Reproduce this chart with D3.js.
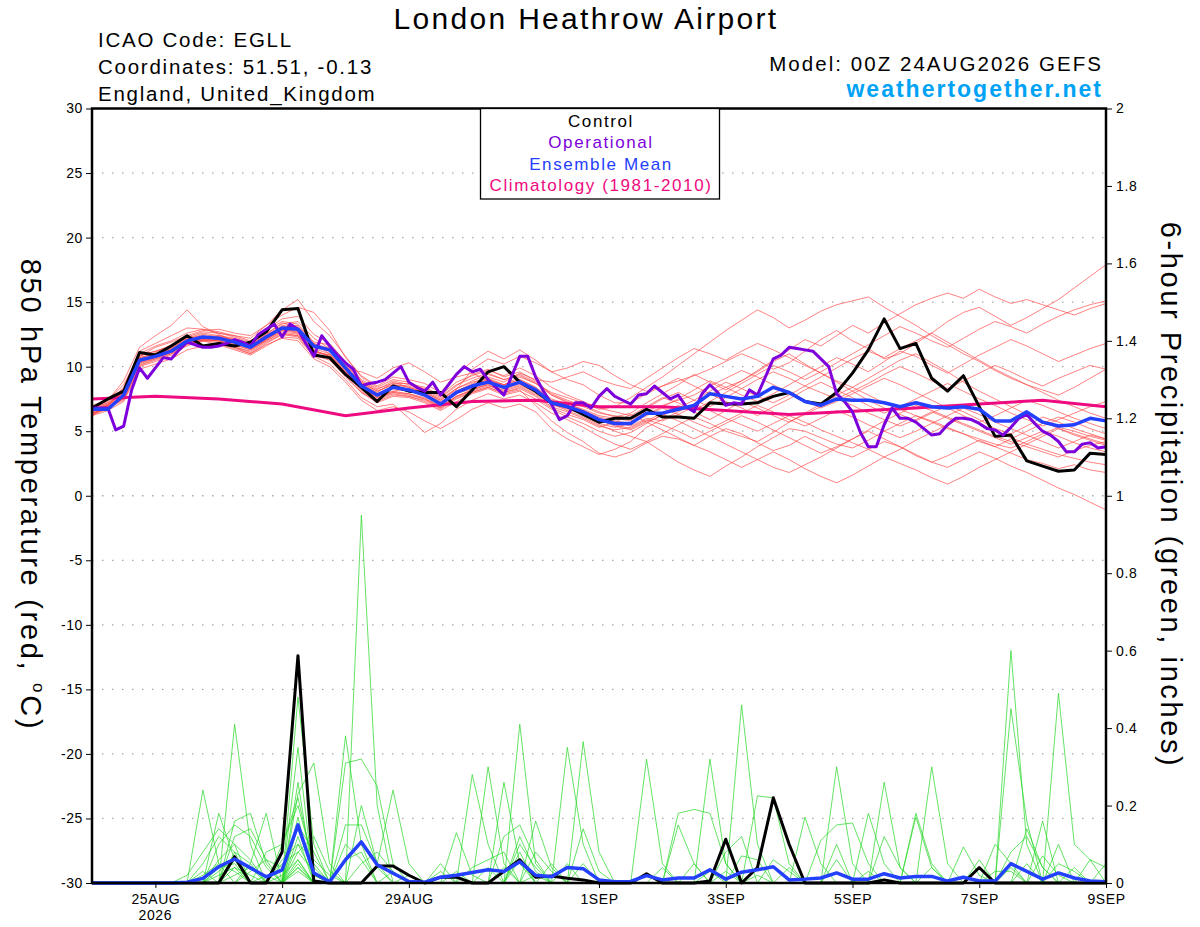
<!DOCTYPE html>
<html>
<head>
<meta charset="utf-8">
<script src="https://cdn.jsdelivr.net/npm/d3@7"></script>
<style>
  body { margin: 0; background: #fff; }
  svg text { font-family: "Liberation Sans", Arial, Helvetica, sans-serif; }
</style>
</head>
<body>
<svg id="chart" width="1200" height="927"></svg>
<script>
var runStart = Date.UTC(2026, 7, 24);      // 00Z 24AUG2026
var runEnd = Date.UTC(2026, 8, 9);

var tempTicks = [-30, -25, -20, -15, -10, -5, 0, 5, 10, 15, 20, 25, 30];
var precipTicks = [0, 0.2, 0.4, 0.6, 0.8, 1, 1.2, 1.4, 1.6, 1.8, 2];
var dateTicks = ["2026-08-25", "2026-08-27", "2026-08-29", "2026-09-01",
                 "2026-09-03", "2026-09-05", "2026-09-07", "2026-09-09"];

// 6-hourly control 850 hPa temperature
var controlTemp = [6.8,7.5,8.1,11.1,10.9,11.6,12.4,11.6,11.8,11.6,11.9,
  12.7,14.4,14.5,10.9,10.7,9.4,8.4,7.3,8.5,8.1,
  8.0,8.0,6.9,8.2,9.6,10.0,8.8,8.1,7.2,6.9,
  6.3,5.7,6.0,6.0,6.7,6.1,6.1,6.0,7.2,7.1,
  7.1,7.2,7.7,8.0,7.3,7.1,8.0,9.5,11.3,13.7,
  11.4,11.8,9.1,8.1,9.3,6.9,4.6,4.7,2.7,2.3,
  1.9,2.0,3.3,3.2];

// 6-hourly ensemble mean temperature
var meanTemp = [6.7,6.7,7.8,10.5,10.8,11.2,12.0,12.3,12.2,11.9,11.5,
  12.3,13.0,12.9,11.6,11.3,9.9,8.5,7.8,8.4,8.2,
  7.8,7.1,8.0,8.5,8.8,8.4,8.8,8.2,7.2,6.9,
  6.5,5.9,5.6,5.6,6.4,6.4,6.7,7.0,7.9,7.7,
  7.5,7.7,8.4,8.0,7.3,7.0,7.5,7.4,7.4,7.2,
  6.9,7.2,6.9,6.8,6.9,6.7,5.8,5.8,6.5,5.7,
  5.4,5.5,6.0,5.8];

// 3-hourly operational GFS temperature
var operTemp = [6.8,6.8,6.8,5.1,5.4,8.2,9.9,9.1,9.9,10.7,
  10.6,11.3,11.9,11.7,11.5,11.5,11.6,11.8,12.1,11.9,
  11.6,12.5,12.9,13.3,12.3,13.3,12.9,11.8,10.8,12.4,
  11.6,10.9,10.3,9.8,8.5,8.7,8.8,9.0,9.5,10.0,
  8.8,8.4,8.1,8.8,7.8,8.6,9.4,10.0,9.6,9.8,
  9.0,8.4,7.8,9.3,10.8,10.8,9.2,8.1,7.1,5.9,
  6.2,7.2,7.2,6.8,7.7,8.3,7.7,7.4,7.1,7.8,
  7.9,8.5,8.0,7.5,7.8,6.9,6.5,7.9,8.6,8.0,
  7.0,7.2,7.1,8.2,7.8,9.2,10.6,10.9,11.5,11.4,
  11.3,11.2,10.6,10.0,7.9,7.3,6.5,4.9,3.8,3.8,
  5.5,6.8,6.0,6.0,5.7,5.2,4.7,4.8,5.5,6.0,
  6.0,5.9,5.6,5.2,5.1,4.7,5.3,6.0,6.3,5.6,
  5.0,4.7,4.2,3.4,3.4,4.0,4.1,3.7,3.8];

// daily climatology (1981-2010)
var climTemp = [7.5,7.7,7.5,7.1,6.2,6.8,7.3,7.4,6.9,6.9,6.6,6.3,6.55,6.8,7.1,7.4,6.9];

// 6-hourly ensemble members, temperature
var memberTemp = [
  [6.5,7.0,8.2,10.8,11.5,11.9,12.4,12.0,12.3,11.8,11.6, 12.5,13.4,13.0,11.8,11.0,9.6,8.7,8.0,8.8,8.4,
   8.0,7.4,8.2,9.8,10.6,10.2,10.8,10.3,9.6,9.9, 10.4,10.1,9.3,8.6,8.1,8.5,8.9,9.3,9.8,10.4,
   11.0,10.5,9.8,10.3,11.2,12.1,12.8,12.0,11.4,10.6, 11.0,11.8,12.6,13.5,14.2,14.6,13.9,13.2,13.8,14.5, 15.2,16.1,17.0,17.9],
  [6.2,6.9,7.5,10.1,10.5,11.0,11.6,12.1,12.0,11.5,11.2, 12.0,12.7,12.5,11.0,10.6,9.2,8.0,7.3,7.8,7.7,
   7.4,6.8,7.6,8.0,8.4,7.9,8.2,7.0,5.8,4.9, 4.2,3.3,3.0,3.4,4.1,4.6,4.4,3.9,4.6,5.2,
   4.8,4.1,3.5,3.9,4.6,4.0,3.4,3.0,3.6,4.2, 3.8,3.1,2.6,2.2,2.8,3.4,2.9,2.3,1.8,1.2, 0.6,0.1,-0.5,-1.1],
  [6.8,7.2,8.4,11.2,11.8,12.4,13.0,12.9,12.6,12.4,12.2, 13.2,14.4,15.2,13.5,12.4,10.8,9.2,8.4,9.0,8.8,
   8.2,7.6,8.5,9.4,9.8,9.2,9.6,8.9,7.8,7.2, 6.6,6.0,5.7,5.4,6.0,5.8,6.3,6.9,7.8,8.4,
   8.9,9.6,10.4,11.0,10.2,9.5,8.8,8.1,7.4,6.8, 6.3,5.8,6.4,7.0,6.5,5.9,5.2,4.8,5.4,6.1, 5.7,5.2,4.8,4.4],
  [7.0,7.4,8.9,11.5,12.4,13.2,14.4,13.1,12.5,12.0,11.7, 12.4,13.0,12.6,11.2,10.8,9.4,8.3,7.7,8.1,8.3,
   7.9,7.3,7.9,8.3,8.6,8.1,8.5,7.9,7.1,6.6, 6.1,5.5,5.0,4.6,4.2,4.8,5.5,6.1,5.6,5.0,
   4.6,4.2,4.9,5.7,6.4,7.1,7.8,8.4,9.1,9.8, 10.5,11.0,10.3,9.6,8.8,8.1,7.5,6.9,6.3,5.8, 5.2,4.7,4.3,3.9],
  [6.6,7.1,8.0,10.6,10.9,11.4,12.2,12.6,12.4,12.1,11.6, 12.2,12.9,12.7,11.4,11.0,9.8,9.6,9.1,9.9,10.3,
   9.6,8.8,9.2,9.5,8.9,8.6,9.2,8.7,8.0,7.6, 7.2,6.7,6.9,7.6,8.4,9.2,10.1,11.0,11.9,12.8,
   13.6,14.4,13.8,13.0,13.6,14.3,14.8,15.1,15.4,14.6, 13.9,13.2,12.4,11.7,11.0,10.4,9.7,9.1,8.6,8.2, 7.8,8.4,9.1,9.8],
  [6.4,6.8,7.4,10.0,10.4,10.9,11.8,12.0,11.7,11.3,10.9, 11.6,12.3,12.2,10.8,10.2,9.0,7.6,6.9,7.1,6.0,
   4.9,5.6,6.7,7.4,7.9,7.5,7.8,7.2,6.4,5.9, 5.3,4.6,4.0,3.6,4.2,3.4,2.6,2.0,1.5,2.3,
   3.0,3.8,4.5,5.2,5.0,4.5,4.0,3.7,4.3,5.0, 5.6,6.2,5.8,5.3,4.8,4.2,3.8,4.4,5.0,5.6, 6.1,5.7,5.2,4.8],
  [6.9,7.3,8.3,10.9,11.2,11.6,12.3,12.7,12.6,12.3,11.9, 12.8,13.5,13.3,11.9,11.7,10.2,8.9,8.2,8.9,8.6,
   8.3,7.7,8.6,9.1,9.5,9.0,9.4,8.8,7.9,7.4, 7.0,6.5,6.1,6.4,7.2,7.9,8.6,9.4,8.8,8.2,
   8.9,9.7,10.5,11.3,12.1,11.6,12.4,13.2,12.6,13.4, 14.1,14.8,15.3,15.7,15.3,16.0,15.4,14.9,15.2,14.8, 14.4,14.0,14.5,14.9],
  [6.6,6.9,7.9,10.4,10.9,11.3,12.1,12.5,12.3,12.0,11.4, 12.1,12.8,13.1,11.6,11.2,10.0,8.7,7.9,8.3,8.1,
   7.8,7.2,8.0,8.6,9.0,8.5,8.8,8.3,7.4,7.0, 6.6,6.1,5.8,5.6,6.3,6.9,7.5,8.2,8.9,8.4,
   7.8,7.3,7.9,8.6,9.3,10.0,10.7,10.2,9.6,10.4, 11.2,10.8,10.1,9.5,10.2,10.9,11.5,12.1,11.6,11.0, 10.4,10.9,11.4,11.8],
  [6.3,6.7,7.6,10.2,10.7,11.1,11.7,12.0,12.1,11.7,11.3, 12.0,12.6,12.4,11.1,10.9,9.5,8.2,7.5,8.0,7.9,
   7.5,6.9,7.7,8.2,8.6,8.0,8.4,7.8,6.9,6.5, 6.0,5.4,5.1,5.3,5.9,5.5,5.0,4.4,5.0,5.6,
   6.2,5.7,5.1,4.5,3.9,3.3,3.8,4.4,5.0,4.4, 3.8,3.2,2.6,3.1,3.7,4.3,3.8,3.3,2.8,2.5, 2.1,2.4,2.0,1.8],
  [6.7,7.0,7.8,10.7,11.0,11.5,12.1,12.3,12.4,12.2,11.8, 12.6,13.3,13.5,12.2,11.4,10.1,8.8,8.1,8.6,8.5,
   8.1,7.5,8.3,8.8,9.1,8.6,9.0,8.4,7.5,7.1, 6.7,6.2,6.0,5.8,6.6,7.0,7.4,7.8,8.5,9.1,
   9.7,9.2,8.6,8.0,7.4,6.8,7.3,7.9,8.5,9.1, 8.6,8.0,7.4,6.8,6.2,5.7,6.2,6.8,7.4,7.0, 6.5,6.0,5.6,5.2],
  [6.5,7.0,8.1,10.6,11.1,11.7,12.4,12.8,12.9,12.6,12.4, 13.2,14.0,14.6,14.2,12.8,10.7,9.3,8.5,9.2,9.0,
   8.7,8.0,9.4,10.4,11.2,10.6,11.3,10.5,9.6,9.0, 8.6,7.8,7.2,7.2,7.9,8.5,9.1,8.5,7.9,7.3,
   6.8,6.2,6.9,7.5,8.2,8.8,8.2,7.6,7.0,6.4, 6.9,7.5,8.1,8.7,8.1,7.5,7.0,6.4,5.9,5.4, 5.9,6.4,6.9,7.3],
  [6.4,6.8,7.7,10.3,10.6,11.0,11.9,12.1,12.0,11.6,11.1, 11.9,12.5,12.3,10.9,10.5,9.3,8.0,7.2,7.7,7.6,
   7.2,6.6,7.3,7.9,8.3,7.8,8.1,7.5,6.7,6.1, 5.6,5.0,4.6,4.9,5.6,6.3,5.8,5.2,4.6,4.0,
   3.4,2.8,2.2,1.8,2.4,3.0,3.7,4.4,5.1,5.8, 6.4,7.0,6.6,6.1,5.6,5.1,4.6,4.2,3.8,3.4, 3.0,3.5,3.9,4.2],
  [6.8,7.2,8.0,10.8,11.2,11.6,12.2,12.4,12.2,11.9,11.5, 12.3,13.0,12.9,11.5,11.2,9.9,8.6,7.8,8.4,8.3,
   7.9,7.2,8.1,8.7,9.2,8.8,9.5,9.0,8.8,9.2, 9.6,9.0,8.6,8.3,9.1,9.9,10.7,11.4,11.0,10.5,
   11.2,11.8,11.3,10.7,10.1,9.5,8.9,8.4,7.8,7.2, 6.7,6.2,5.7,5.2,4.8,4.4,4.0,3.7,4.2,4.8, 5.3,5.0,4.6,4.3],
  [6.2,6.6,7.3,9.8,10.2,10.6,11.3,11.6,11.8,11.4,11.0, 11.7,12.2,12.0,10.6,10.0,8.8,7.4,6.6,6.9,6.5,
   5.8,5.2,5.9,6.7,7.2,6.8,7.1,6.5,5.2,4.4, 3.8,3.2,3.6,4.2,5.3,5.9,6.5,7.1,6.6,6.0,
   5.5,5.0,5.6,6.2,5.7,5.1,4.6,4.1,3.6,3.0, 2.5,2.0,1.4,0.9,1.5,2.2,2.8,3.4,4.0,4.6, 5.2,4.8,4.4,4.0],
  [6.9,7.4,8.6,11.0,11.6,12.0,12.6,12.9,12.7,12.4,12.0, 12.9,13.7,13.9,12.5,11.8,10.4,9.0,8.3,8.7,8.7,
   8.4,7.8,8.8,9.3,9.7,9.3,9.9,9.3,8.4,7.8, 7.3,6.8,6.5,6.2,6.9,7.6,7.2,6.6,7.3,8.0,
   8.7,9.4,10.1,9.6,9.0,9.6,10.3,11.0,11.7,12.4, 13.1,12.6,12.0,11.5,12.2,12.9,13.5,13.1,12.6,13.3, 13.9,14.4,14.8,15.1],
  [6.5,6.9,7.6,10.4,10.7,11.2,11.9,12.2,12.1,11.8,11.4, 12.1,12.9,12.8,11.3,10.8,9.6,8.4,7.6,8.1,7.9,
   7.6,6.9,7.7,8.1,8.5,8.2,8.6,8.0,7.1,6.7, 6.3,5.8,5.5,5.2,5.8,6.4,7.0,6.5,5.9,6.6,
   7.3,6.8,6.2,5.7,6.3,6.9,7.5,7.0,6.4,5.9, 5.4,5.9,6.5,6.0,5.5,5.0,4.5,4.0,4.5,5.0, 4.6,4.1,3.7,3.4],
  [6.7,7.1,8.1,10.5,10.9,11.3,12.0,12.3,12.3,12.0,11.7, 12.4,13.2,13.0,11.7,11.3,10.0,8.6,7.9,8.4,8.2,
   7.8,7.2,8.1,8.6,9.0,8.6,9.0,8.4,7.3,6.8, 6.4,5.9,5.4,5.1,5.7,6.2,6.8,7.4,8.1,8.8,
   8.3,7.7,7.2,7.8,8.5,9.2,9.9,10.6,11.2,10.7, 11.4,12.0,12.6,11.9,11.2,10.5,9.8,9.2,8.6,8.0, 7.4,6.9,6.4,6.0],
  [6.3,6.8,7.5,10.1,10.6,11.1,11.8,12.0,11.9,11.5,11.0, 11.8,12.5,12.4,11.0,10.7,9.5,8.1,7.4,7.9,7.7,
   7.3,6.7,7.5,8.0,8.4,8.0,8.3,7.7,6.8,6.3, 5.9,5.3,5.7,6.3,5.7,5.1,4.5,3.9,3.4,2.8,
   2.2,2.8,3.4,2.8,2.1,1.5,1.0,1.6,2.3,3.0, 3.6,4.3,4.9,5.5,6.1,5.6,5.0,4.5,4.0,3.6, 3.2,2.9,2.6,2.4],
  [6.6,7.0,8.0,10.7,11.0,11.4,12.0,12.2,12.3,12.1,11.7, 12.5,13.1,13.2,11.8,11.4,10.0,8.8,8.1,8.6,8.4,
   8.0,7.4,8.3,8.9,9.4,9.0,9.3,8.7,7.8,7.3, 6.9,6.4,6.2,6.0,6.8,7.5,8.0,7.4,6.9,7.6,
   8.3,9.0,9.6,9.1,8.5,8.0,7.5,8.1,8.7,9.4, 10.0,9.5,8.9,8.3,8.9,9.5,10.1,9.6,9.0,8.5, 9.1,9.6,10.1,9.8],
  [6.4,6.8,7.6,10.3,10.8,11.2,11.9,12.1,12.0,11.7,11.3, 12.1,12.8,12.6,11.2,10.9,9.7,8.3,7.6,8.0,7.8,
   7.5,6.8,7.7,8.2,8.7,8.3,8.7,8.1,7.2,6.8, 6.3,5.6,5.3,5.6,6.2,6.8,6.3,5.7,5.2,5.8,
   6.4,7.0,6.5,5.9,5.4,6.0,6.6,6.1,5.5,5.0, 4.5,5.0,5.6,6.2,6.8,6.3,5.7,5.2,4.7,4.2, 3.7,4.2,4.7,4.4]
];

// 6-hourly precipitation (inches)
var controlPrecip = [0,0,0,0,0,0,0,0,0,0.068,0,
  0,0.08,0.587,0.005,0,0,0,0.044,0.044,0.02,
  0,0.015,0.015,0,0,0.03,0.06,0.015,0.018,0.012,
  0.008,0,0,0,0.024,0,0,0,0.005,0.113,
  0,0.04,0.22,0.1,0,0,0,0,0,0.008,
  0,0,0,0,0,0.04,0,0,0,0,
  0,0,0,0];

var meanPrecip = [0,0,0,0,0,0,0.002,0.012,0.042,0.062,0.039,
  0.016,0.034,0.15,0.026,0.003,0.06,0.106,0.047,0.025,0.004,
  0.002,0.015,0.02,0.027,0.034,0.03,0.055,0.02,0.016,0.04,
  0.037,0.008,0.003,0.004,0.019,0.008,0.013,0.013,0.034,0.01,
  0.028,0.034,0.042,0.008,0.01,0.013,0.026,0.01,0.01,0.024,
  0.013,0.017,0.017,0.005,0.015,0.005,0.005,0.05,0.03,0.01,
  0.026,0.013,0.005,0.003];

// members: [6-hour step, amount] for every non-zero step
var memberPrecip = [
  [[7,0.24],[8,0.05],[13,0.48],[14,0.1],[17,0.2],[18,0.05],[27,0.41],[28,0.05],[47,0.1],[58,0.6],[59,0.1]],
  [[9,0.41],[10,0.1],[13,0.35],[17,0.95],[18,0.2],[30,0.35],[31,0.1],[41,0.46],[42,0.1],[61,0.49],[62,0.1],[63,0.06]],
  [[8,0.18],[9,0.06],[13,0.26],[16,0.38],[17,0.1],[25,0.3],[26,0.05],[39,0.32],[40,0.05],[53,0.3],[54,0.05],[58,0.45],[59,0.16]],
  [[9,0.16],[10,0.18],[11,0.05],[13,0.23],[14,0.31],[15,0.05],[24,0.28],[25,0.1],[35,0.32],[36,0.05],[50,0.26],[51,0.04],[60,0.16]],
  [[10,0.05],[11,0.18],[13,0.17],[16,0.31],[17,0.32],[18,0.25],[19,0.05],[31,0.365],[32,0.08],[47,0.3],[48,0.05],[61,0.1]],
  [[6,0.02],[7,0.08],[8,0.14],[9,0.1],[13,0.12],[16,0.15],[17,0.15],[18,0.05],[19,0.24],[20,0.05],[26,0.26],[27,0.05],[37,0.18],[38,0.19],[39,0.18],[40,0.05],[49,0.18],[50,0.05]],
  [[7,0.05],[8,0.12],[9,0.08],[12,0.1],[13,0.2],[14,0.05],[23,0.13],[24,0.02],[37,0.15],[38,0.05],[42,0.225],[43,0.22],[44,0.05],[52,0.18],[53,0.05],[63,0.06],[64,0.04]],
  [[8,0.1],[9,0.15],[10,0.12],[11,0.04],[13,0.15],[14,0.08],[22,0.05],[28,0.16],[29,0.04],[45,0.17],[46,0.05],[57,0.1],[58,0.05]],
  [[8,0.06],[9,0.1],[10,0.06],[13,0.1],[14,0.06],[15,0.02],[26,0.12],[27,0.15],[28,0.06],[46,0.11],[47,0.15],[48,0.155],[49,0.05],[55,0.093],[56,0.02]],
  [[9,0.08],[10,0.05],[12,0.05],[13,0.08],[14,0.03],[20,0.02],[27,0.1],[28,0.04],[31,0.14],[32,0.03],[52,0.17],[53,0.04]],
  [[7,0.03],[9,0.12],[10,0.14],[11,0.06],[13,0.06],[16,0.06],[17,0.08],[27,0.08],[29,0.05],[40,0.08],[41,0.12],[58,0.08],[59,0.12],[60,0.04]],
  [[8,0.04],[9,0.05],[11,0.08],[12,0.1],[13,0.22],[14,0.04],[24,0.04],[25,0.06],[26,0.08],[36,0.04],[50,0.12],[51,0.04],[62,0.04]],
  [[10,0.03],[11,0.06],[12,0.04],[13,0.14],[14,0.02],[18,0.04],[22,0.03],[27,0.12],[28,0.03],[43,0.06],[44,0.03],[56,0.06]],
  [[8,0.02],[9,0.04],[10,0.02],[12,0.06],[13,0.1],[14,0.02],[26,0.04],[28,0.08],[29,0.03],[38,0.05],[47,0.06],[59,0.14],[60,0.04]],
  [[9,0.06],[13,0.04],[17,0.05],[18,0.08],[19,0.03],[31,0.05],[41,0.07],[42,0.06],[57,0.03],[58,0.03],[61,0.05],[62,0.03]],
  [[7,0.02],[8,0.05],[9,0.03],[13,0.05],[27,0.06],[35,0.02],[39,0.03],[53,0.04]],
  [[9,0.02],[10,0.04],[13,0.08],[14,0.12],[15,0.03],[30,0.05],[44,0.04],[60,0.07],[61,0.02]],
  [[12,0.02],[13,0.06],[16,0.1],[17,0.06],[25,0.04],[40,0.03],[64,0.05]],
  [[8,0.03],[9,0.07],[13,0.03],[19,0.03],[28,0.02],[49,0.03],[58,0.04]],
  [[9,0.04],[11,0.02],[13,0.04],[23,0.03],[42,0.02],[59,0.05]]
];
var precipSteps = 65;

(function() {
  // ---- chart ----
  var HOUR = 3600 * 1000;
  var plotL = 92, plotR = 1106, plotT = 108.5, plotB = 883;
  var font = "Liberation Sans, Arial, sans-serif";

  var svg = d3.select("#chart");

  var x = d3.scaleUtc()
      .domain([new Date(runStart), new Date(runEnd)])
      .range([plotL, plotR]);
  var yT = d3.scaleLinear().domain([-30, 30]).range([plotB, plotT]);
  var yP = d3.scaleLinear().domain([0, 2]).range([plotB, plotT]);

  function series(values, stepHours) {
    return values.map(function(v, i) {
      return { t: new Date(runStart + i * stepHours * HOUR), v: v };
    });
  }
  function fromPairs(pairs) {
    var vals = new Array(precipSteps).fill(0);
    pairs.forEach(function(p) { vals[p[0]] = p[1]; });
    return vals;
  }

  var lineT = d3.line().x(function(d) { return x(d.t); }).y(function(d) { return yT(d.v); });
  var lineP = d3.line().x(function(d) { return x(d.t); }).y(function(d) { return yP(d.v); });

  // dotted grid
  svg.append("g").selectAll("line")
    .data(tempTicks.filter(function(d) { return d > -30 && d < 30; }))
    .enter().append("line")
      .attr("x1", plotL).attr("x2", plotR)
      .attr("y1", function(d) { return yT(d); })
      .attr("y2", function(d) { return yT(d); })
      .attr("stroke", "#a8a8a8")
      .attr("stroke-width", 1.3)
      .attr("stroke-dasharray", "1.5,8.5");

  var plot = svg.append("g");

  // ensemble members
  plot.selectAll(".tmember")
    .data(memberTemp)
    .enter().append("path")
      .attr("class", "tmember")
      .attr("d", function(d) { return lineT(series(d, 6)); })
      .attr("fill", "none")
      .attr("stroke", "#ff4646")
      .attr("stroke-opacity", 0.85)
      .attr("stroke-width", 0.8);

  plot.selectAll(".pmember")
    .data(memberPrecip)
    .enter().append("path")
      .attr("class", "pmember")
      .attr("d", function(d) { return lineP(series(fromPairs(d), 6)); })
      .attr("fill", "none")
      .attr("stroke", "#28d828")
      .attr("stroke-opacity", 0.9)
      .attr("stroke-width", 0.8);

  // climatology, control, operational, mean
  plot.append("path")
    .attr("d", lineT(series(climTemp, 24)))
    .attr("fill", "none").attr("stroke", "#ee0a80").attr("stroke-width", 3);

  plot.append("path")
    .attr("d", lineP(series(controlPrecip, 6)))
    .attr("fill", "none").attr("stroke", "#000").attr("stroke-width", 3)
    .attr("stroke-linejoin", "round");
  plot.append("path")
    .attr("d", lineP(series(meanPrecip, 6)))
    .attr("fill", "none").attr("stroke", "#2440ff").attr("stroke-width", 3.5)
    .attr("stroke-linejoin", "round");

  plot.append("path")
    .attr("d", lineT(series(controlTemp, 6)))
    .attr("fill", "none").attr("stroke", "#000").attr("stroke-width", 3)
    .attr("stroke-linejoin", "round");
  plot.append("path")
    .attr("d", lineT(series(operTemp, 3)))
    .attr("fill", "none").attr("stroke", "#7d00dc").attr("stroke-width", 3)
    .attr("stroke-linejoin", "round");
  plot.append("path")
    .attr("d", lineT(series(meanTemp, 6)))
    .attr("fill", "none").attr("stroke", "#2440ff").attr("stroke-width", 3.5)
    .attr("stroke-linejoin", "round");

  // axes
  var axL = svg.append("g")
    .attr("transform", "translate(" + plotL + ",0)")
    .call(d3.axisLeft(yT).tickValues(tempTicks).tickSize(6).tickPadding(3)
          .tickFormat(function(d) { return String(d); }));
  var axR = svg.append("g")
    .attr("transform", "translate(" + plotR + ",0)")
    .call(d3.axisRight(yP).tickValues(precipTicks).tickSize(6).tickPadding(4)
          .tickFormat(function(d) { return String(d); }));
  var fmtDay = d3.utcFormat("%-d%b");
  var axB = svg.append("g")
    .attr("transform", "translate(0," + plotB + ")")
    .call(d3.axisBottom(x)
          .tickValues(dateTicks.map(function(s) { return new Date(s + "T00:00:00Z"); }))
          .tickSize(5).tickPadding(6)
          .tickFormat(function(d) { return fmtDay(d).toUpperCase(); }));

  [axL, axR, axB].forEach(function(a) {
    a.attr("font-size", 14).attr("font-family", font);
    a.select(".domain").remove();
    a.selectAll("text").attr("fill", "#000").attr("letter-spacing", 0.6);
    a.selectAll("line").attr("stroke", "#000");
  });
  axB.append("text")
    .attr("x", x(new Date(dateTicks[0] + "T00:00:00Z")))
    .attr("y", 37)
    .attr("text-anchor", "middle")
    .attr("letter-spacing", 0.6)
    .attr("fill", "#000")
    .text("2026");

  // frame
  svg.append("rect")
    .attr("x", plotL).attr("y", plotT)
    .attr("width", plotR - plotL).attr("height", plotB - plotT)
    .attr("fill", "none").attr("stroke", "#000").attr("stroke-width", 2.5);

  // legend
  var legendItems = [
    { label: "Control", color: "#000" },
    { label: "Operational", color: "#7d00dc" },
    { label: "Ensemble Mean", color: "#2440ff" },
    { label: "Climatology (1981-2010)", color: "#ee0a80" }
  ];
  var lg = svg.append("g");
  lg.append("rect")
    .attr("x", 480.5).attr("y", plotT).attr("width", 239).attr("height", 90.5)
    .attr("fill", "#fff").attr("stroke", "#000").attr("stroke-width", 1.3);
  lg.selectAll("text").data(legendItems).enter().append("text")
    .attr("x", 601)
    .attr("y", function(d, i) { return 127 + i * 21.4; })
    .attr("text-anchor", "middle")
    .attr("font-size", 17)
    .attr("letter-spacing", 1.6)
    .attr("fill", function(d) { return d.color; })
    .text(function(d) { return d.label; });

  // titles
  svg.append("text")
    .attr("x", 586).attr("y", 29)
    .attr("text-anchor", "middle").attr("font-size", 30)
    .attr("letter-spacing", 2.3)
    .text("London Heathrow Airport");

  var info = ["ICAO Code: EGLL", "Coordinates: 51.51, -0.13", "England, United_Kingdom"];
  svg.selectAll(".info").data(info).enter().append("text")
    .attr("class", "info")
    .attr("x", 98)
    .attr("y", function(d, i) { return 47 + i * 27; })
    .attr("font-size", 20.5)
    .attr("letter-spacing", 1.75)
    .text(function(d) { return d; });

  svg.append("text")
    .attr("x", 1103).attr("y", 71)
    .attr("text-anchor", "end").attr("font-size", 20.5)
    .attr("letter-spacing", 2.05)
    .text("Model: 00Z 24AUG2026 GEFS");
  svg.append("text")
    .attr("x", 1103).attr("y", 97)
    .attr("text-anchor", "end").attr("font-size", 23)
    .attr("letter-spacing", 2)
    .attr("font-weight", "bold").attr("fill", "#00a2f5")
    .text("weathertogether.net");

  // axis titles
  var lt = svg.append("text")
    .attr("transform", "translate(21,495) rotate(90)")
    .attr("text-anchor", "middle").attr("font-size", 29)
    .attr("letter-spacing", 2.7);
  lt.append("tspan").text("850 hPa Temperature (red, ");
  lt.append("tspan").attr("font-size", 17).attr("dy", -12).text("o");
  lt.append("tspan").attr("dy", 12).text("C)");

  svg.append("text")
    .attr("transform", "translate(1161,495) rotate(90)")
    .attr("text-anchor", "middle").attr("font-size", 29)
    .attr("letter-spacing", 2.6)
    .text("6-hour Precipitation (green, inches)");
})();
</script>
</body>
</html>
